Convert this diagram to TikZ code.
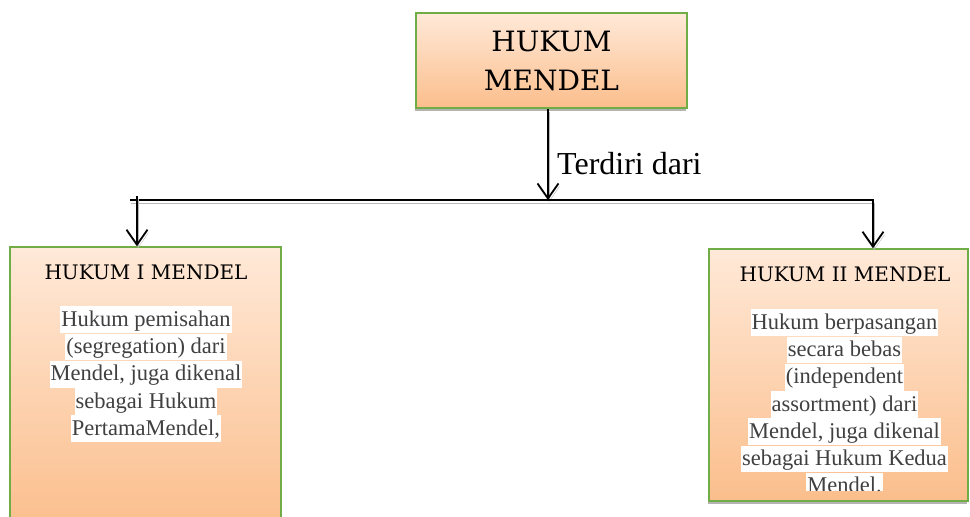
\documentclass[tikz,border=0pt]{standalone}
\usepackage{fontspec}
\setmainfont{Liberation Serif}
\newfontfamily\titlefont{DejaVu Serif}
\usetikzlibrary{arrows.meta,shadows}
\definecolor{lawgreen}{RGB}{112,173,71}
\definecolor{peachtop}{RGB}{255,233,216}
\definecolor{peachbot}{RGB}{251,190,140}
\definecolor{bodygray}{RGB}{64,64,64}
\setlength{\fboxsep}{1pt}
\newcommand{\hlline}[1]{\colorbox{white}{\rule[-0.26em]{0pt}{1.1em}#1}}
\begin{document}
\begin{tikzpicture}[x=1pt,y=-1pt,
  lawbox/.style={draw=lawgreen,line width=1.5pt,top color=peachtop,bottom color=peachbot,inner sep=0pt,
    drop shadow={shadow xshift=-1pt,shadow yshift=-3pt,fill=gray,opacity=0.6}},
  lawtitle/.style={font=\titlefont\fontsize{20}{24}\selectfont,anchor=base,inner sep=0pt},
  lawtext/.style={font=\fontsize{22.5}{27.3}\selectfont,text=bodygray,align=center,anchor=north,inner sep=0pt},
  conn/.style={line width=1.8pt,-{Straight Barb[length=15pt,width=21pt]},
    preaction={draw=gray!55,transform canvas={shift={(1pt,-3pt)}}}}]
\useasboundingbox (0,0) rectangle (970,517);
% boxes
\node[lawbox,minimum width=271pt,minimum height=95pt,font=\titlefont\fontsize{28}{39}\selectfont,align=center] (hukum) at (551.5,60.5) {HUKUM\\MENDEL};
\node[lawbox,minimum width=271pt,minimum height=283pt] (hk1) at (145.5,388.5) {};
\node[lawbox,minimum width=259pt,minimum height=252pt] (hk2) at (838.5,375) {};
\node[lawtitle] (hk1title) at (146,279) {HUKUM I MENDEL};
\node[lawtitle] (hk2title) at (845,281) {HUKUM II MENDEL};
\node[lawtext] (hk1text) at (146,306) {\hlline{Hukum pemisahan}\\\hlline{(segregation) dari}\\\hlline{Mendel, juga dikenal}\\\hlline{sebagai Hukum}\\\hlline{PertamaMendel,}};
\begin{scope}
\clip ([yshift=11pt]hk2.south west) rectangle (hk2.north east);
\node[lawtext] (hk2text) at (844.5,309) {\hlline{Hukum berpasangan}\\\hlline{secara bebas}\\\hlline{(independent}\\\hlline{assortment) dari}\\\hlline{Mendel, juga dikenal}\\\hlline{sebagai Hukum Kedua}\\\hlline{Mendel.}};
\end{scope}
% connectors
\coordinate (barL) at (130,200);
\coordinate (barM) at (548,200);
\coordinate (barR) at (873,200);
\coordinate (drop1) at (137,196);
\draw[conn] (barM |- hukum.south) -- (barM);
\node[font=\fontsize{32}{36}\selectfont,anchor=base west,inner sep=0pt] (terdiri) at (557,174) {Terdiri dari};
\draw[conn] (barL) -- (barR) -- (barR |- hk2.north);
\draw[conn] (drop1) -- (drop1 |- hk1.north);
\end{tikzpicture}
\end{document}
